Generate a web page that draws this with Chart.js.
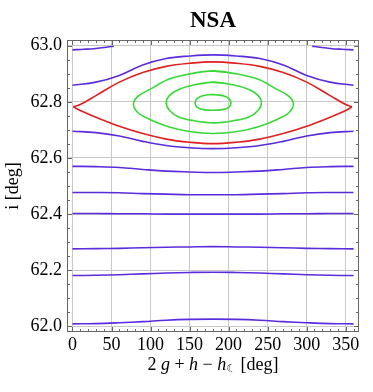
<!DOCTYPE html>
<html>
<head>
<meta charset="utf-8">
<title>NSA</title>
<script src="https://cdn.jsdelivr.net/npm/chart.js@4.4.1/dist/chart.umd.min.js"></script>
<style>
  body { margin: 0; background: #fff; }
  #wrap { position: relative; width: 373px; height: 392px; }
  .lbl { position: absolute; left: 67px; width: 292px; text-align: center; color: #000;
         font-family: 'Liberation Serif', 'Times New Roman', serif; }
  #title { top: 7px; font-size: 23px; font-weight: bold; line-height: 26px; }
  #xtitle { top: 353px; font-size: 18px; line-height: 22px; }
  #xtitle i { font-style: italic; }
  #xtitle sub { font-size: 11px; font-family: 'DejaVu Sans', sans-serif; vertical-align: -2px; }
</style>
</head>
<body>
<div id="wrap">
  <canvas id="grafico" width="373" height="392"></canvas>
  <div class="lbl" id="title">NSA</div>
  <div class="lbl" id="xtitle">2 <i>g</i> + <i>h</i> &minus; <i>h</i><sub>☾</sub> [deg]</div>
</div>
<script>
// valores (ângulo em graus, inclinação em graus)
const angulos = [0, 30, 60, 90, 120, 150, 180, 210, 240, 270, 300, 330, 360];

const azulF = [62.009, 62.010, 62.013, 62.017, 62.022, 62.025, 62.026, 62.025, 62.022, 62.017, 62.013, 62.010, 62.009];
const azulE = [62.181, 62.182, 62.184, 62.187, 62.190, 62.192, 62.193, 62.192, 62.190, 62.187, 62.184, 62.182, 62.181];
const azulD = [62.276, 62.277, 62.278, 62.280, 62.282, 62.283, 62.284, 62.283, 62.282, 62.280, 62.278, 62.277, 62.276];
const azulC = [62.402, 62.402, 62.401, 62.401, 62.400, 62.400, 62.400, 62.400, 62.400, 62.401, 62.401, 62.402, 62.402];
const azulB = [62.477, 62.477, 62.476, 62.473, 62.471, 62.469, 62.469, 62.469, 62.471, 62.473, 62.476, 62.477, 62.477];
const azulA = [62.570, 62.569, 62.566, 62.559, 62.553, 62.550, 62.548, 62.550, 62.553, 62.559, 62.566, 62.569, 62.570];
const azulBaixo = [62.695, 62.690, 62.678, 62.659, 62.644, 62.636, 62.633, 62.636, 62.644, 62.659, 62.678, 62.690, 62.695];
const azulAlto = [62.859, 62.870, 62.894, 62.931, 62.954, 62.963, 62.967, 62.963, 62.954, 62.931, 62.894, 62.870, 62.859];

// pedaços azuis nos cantos superiores
const cantoEsqX = [0, 15, 30, 45, 53];
const cantoEsq = [62.985, 62.987, 62.990, 62.995, 62.998];
const cantoDirX = [307, 315, 330, 345, 360];
const cantoDir = [62.998, 62.995, 62.990, 62.987, 62.985];

// separatriz (vermelho)
const sepX = [1, 10, 30, 60, 90, 120, 150, 180, 210, 240, 270, 300, 330, 350, 358];
const sepCima = [62.782, 62.790, 62.822, 62.870, 62.904, 62.926, 62.937, 62.942, 62.937, 62.926, 62.904, 62.870, 62.822, 62.790, 62.782];
const sepBaixo = [62.782, 62.769, 62.745, 62.713, 62.687, 62.667, 62.656, 62.651, 62.656, 62.667, 62.687, 62.713, 62.745, 62.769, 62.782];

// curvas fechadas (verde)
const verdeExtX = [78, 84, 99, 123, 148, 180, 213, 238, 262, 277, 283];
const verdeExtCima = [62.791, 62.820, 62.844, 62.880, 62.898, 62.910, 62.898, 62.880, 62.844, 62.820, 62.791];
const verdeExtBaixo = [62.791, 62.761, 62.737, 62.711, 62.695, 62.687, 62.695, 62.711, 62.737, 62.761, 62.791];
const verdeMedX = [120, 124, 136, 155, 181, 207, 226, 238, 242];
const verdeMedCima = [62.796, 62.822, 62.844, 62.860, 62.870, 62.860, 62.844, 62.822, 62.796];
const verdeMedBaixo = [62.796, 62.770, 62.746, 62.733, 62.725, 62.733, 62.746, 62.770, 62.796];
const verdeIntX = [157, 160, 168, 180, 192, 200, 203];
const verdeIntCima = [62.796, 62.812, 62.822, 62.826, 62.822, 62.812, 62.796];
const verdeIntBaixo = [62.796, 62.780, 62.772, 62.770, 62.772, 62.780, 62.796];

const ticksX = [0, 50, 100, 150, 200, 250, 300, 350];
const ticksY = [62.0, 62.2, 62.4, 62.6, 62.8, 63.0];

const AZUL = '#5a2cdc';
const VERMELHO = '#e02020';
const VERDE = '#36d936';

function pontos(xs, ys) {
    return xs.map((x, i) => ({ x: x, y: ys[i] }));
}

// fecha a curva: anel cima (esq->dir) + baixo (dir->esq), começando no topo
function laco(xs, cima, baixo) {
    const anel = pontos(xs, cima);
    for (let i = xs.length - 2; i >= 1; i--) anel.push({ x: xs[i], y: baixo[i] });
    const m = Math.floor(xs.length / 2);
    const pts = anel.slice(m).concat(anel.slice(0, m));
    pts.push(anel[m], anel[m + 1]);
    return pts;
}

function serie(data, cor, tensao) {
    return { data: data, borderColor: cor, borderWidth: 1.6, showLine: true, pointRadius: 0, tension: tensao || 0.4, fill: false };
}

// moldura com marcas para dentro, como no Mathematica
const moldura = {
    id: 'moldura',
    afterDraw(chart) {
        const { ctx, chartArea: a, scales: { x, y } } = chart;
        ctx.save();
        ctx.strokeStyle = '#666';
        ctx.lineWidth = 1;
        ctx.strokeRect(a.left + 0.5, a.top + 0.5, a.width - 1, a.height - 1);
        ctx.beginPath();
        for (let v = 0; v <= 360; v += 10) {
            const px = Math.round(x.getPixelForValue(v)) + 0.5;
            const len = v % 50 === 0 ? 5 : 3;
            ctx.moveTo(px, a.bottom); ctx.lineTo(px, a.bottom - len);
            ctx.moveTo(px, a.top); ctx.lineTo(px, a.top + len);
        }
        for (let k = 0; k <= 20; k++) {
            const py = Math.round(y.getPixelForValue(62 + k * 0.05)) + 0.5;
            const len = k % 4 === 0 ? 5 : 3;
            ctx.moveTo(a.left, py); ctx.lineTo(a.left + len, py);
            ctx.moveTo(a.right, py); ctx.lineTo(a.right - len, py);
        }
        ctx.stroke();
        ctx.restore();
    }
};

const fonte = { family: "'Liberation Serif', 'Times New Roman', serif", size: 18 };

new Chart(document.getElementById('grafico'), {
    type: 'scatter',
    data: {
        datasets: [
            serie(pontos(angulos, azulF), AZUL),
            serie(pontos(angulos, azulE), AZUL),
            serie(pontos(angulos, azulD), AZUL),
            serie(pontos(angulos, azulC), AZUL),
            serie(pontos(angulos, azulB), AZUL),
            serie(pontos(angulos, azulA), AZUL),
            serie(pontos(angulos, azulBaixo), AZUL),
            serie(pontos(angulos, azulAlto), AZUL),
            serie(pontos(cantoEsqX, cantoEsq), AZUL),
            serie(pontos(cantoDirX, cantoDir), AZUL),
            serie(pontos(sepX, sepCima), VERMELHO),
            serie(pontos(sepX, sepBaixo), VERMELHO),
            serie(laco(verdeExtX, verdeExtCima, verdeExtBaixo), VERDE, 0.35),
            serie(laco(verdeMedX, verdeMedCima, verdeMedBaixo), VERDE, 0.35),
            serie(laco(verdeIntX, verdeIntCima, verdeIntBaixo), VERDE, 0.35)
        ]
    },
    options: {
        responsive: false,
        animation: false,
        devicePixelRatio: 1,
        layout: { padding: { top: 40, right: 14, bottom: 0, left: 0 } },
        plugins: { legend: { display: false }, tooltip: { enabled: false } },
        scales: {
            x: {
                type: 'linear',
                min: -7,
                max: 367,
                afterFit: s => { s.height = 60; },
                afterBuildTicks: s => { s.ticks = ticksX.map(v => ({ value: v })); },
                grid: { color: '#c8c8c8', drawTicks: false },
                border: { display: false },
                ticks: { color: '#000', font: fonte, padding: 2, maxRotation: 0, autoSkip: false }
            },
            y: {
                type: 'linear',
                min: 61.98,
                max: 63.02,
                afterFit: s => { s.width = 67; },
                afterBuildTicks: s => { s.ticks = ticksY.map(v => ({ value: v })); },
                grid: { color: '#c8c8c8', drawTicks: false },
                border: { display: false },
                ticks: { color: '#000', font: fonte, padding: 5, callback: v => v.toFixed(1) },
                title: { display: true, text: 'i [deg]', color: '#000', font: fonte, padding: { top: 2, bottom: 0 } }
            }
        }
    },
    plugins: [moldura]
});
</script>
</body>
</html>
